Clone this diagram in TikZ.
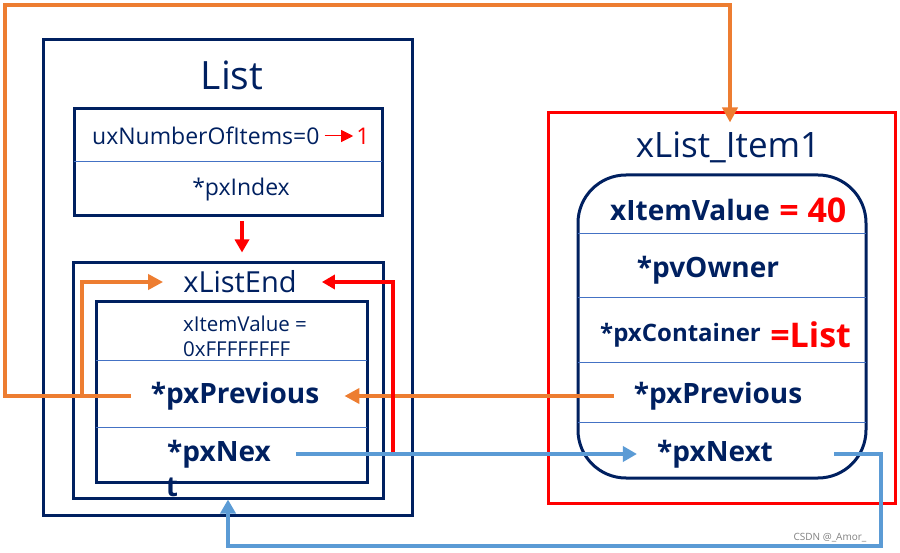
\documentclass[tikz,border=0pt]{standalone}
\usepackage{fontspec}
\setmainfont{Open Sans}
\usetikzlibrary{arrows.meta, calc, positioning}
\definecolor{navy}{HTML}{002060}
\definecolor{orng}{HTML}{ED7D31}
\definecolor{lblue}{HTML}{5B9BD5}
\definecolor{divblue}{HTML}{4472C4}

\begin{document}
\begin{tikzpicture}[
    x=1pt, y=-1pt,
    box/.style={draw=navy, line width=3pt, inner sep=0pt},
    divline/.style={draw=divblue, line width=1pt},
    small/.style={text=navy, inner sep=3pt, font=\fontsize{23}{27}\selectfont},
    head/.style={text=navy, inner sep=3pt, font=\fontsize{29}{34}\selectfont},
    fld/.style={text=navy, inner sep=3pt, font=\bfseries\fontsize{28}{32}\selectfont},
    redval/.style={text=red, inner sep=2pt, font=\bfseries\fontsize{34}{38}\selectfont},
    orangearrow/.style={draw=orng, line width=4pt, -{Triangle[length=15pt, width=15pt]}},
    bluearrow/.style={draw=lblue, line width=3.5pt, -{Triangle[length=14pt, width=15pt]}},
    redarrow/.style={draw=red, line width=3.5pt, -{Triangle[length=13pt, width=14pt]}}
]
\useasboundingbox (0,0) rectangle (900,553);

% Boxes
\node[box, minimum width=369pt, minimum height=475pt] (list) at (227.5,277.5) {};
\node[box, minimum width=308pt, minimum height=107pt] (numbox) at (228,162.5) {};
\node[box, minimum width=310pt, minimum height=235pt] (endbox) at (228,380.5) {};
\node[box, minimum width=271pt, minimum height=180pt] (enditem) at (231.5,392) {};
\node[draw=red, line width=3pt, inner sep=0pt, minimum width=347pt, minimum height=390pt] (item) at (721.5,308) {};
\node[box, rounded corners=48pt, minimum width=288pt, minimum height=303pt] (itemrnd) at (722,326.5) {};

% Dividers
\draw[divline] (74,162) -- (382,162);
\foreach \y in {361,427} \draw[divline] (96,\y) -- (367,\y);
\foreach \y in {234,298,363,422} \draw[divline] (578,\y) -- (866,\y);

% List
\node[text=navy, font=\fontsize{39}{44}\selectfont] (ttl) at (232,75) {List};
\node[small, anchor=west] (numv) at (89,136) {uxNumberOfItems=0};
\node[text=red, inner sep=3pt, font=\fontsize{23}{27}\selectfont] (numone) at (363,136) {1};
\node[small] (idx) at (241,190) {*pxIndex};

% xListEnd
\node[head] (endttl) at (240,282) {xListEnd};
\node[small, anchor=west, align=left, inner sep=0pt, font=\fontsize{20.5}{25}\selectfont] (endval) at (183,336) {xItemValue =\\0xFFFFFFFF};
\node[fld] (endPrev) at (235,396) {*pxPrevious};
\node[fld] (endNex) at (219,454) {*pxNex};
\node[fld] (endT) at (172,487) {t};

% xList_Item1
\node[text=navy, font=\fontsize{35}{40}\selectfont] (itemttl) at (728,147) {xList\_Item1};
\node[fld, anchor=west] (itemVal) at (607,210) {xItemValue};
\node[redval, anchor=west] (itemValR) at ([xshift=4pt]itemVal.east) {= 40};
\node[fld, anchor=west, font=\bfseries\fontsize{24}{28}\selectfont] (itemCont) at (597,335) {*pxContainer};
\node[redval, anchor=west] (itemContR) at ([xshift=4pt]itemCont.east) {=List};
\node[fld] (itemOwn) at (708,270) {*pvOwner};
\node[fld] (itemPrev) at (718,396) {*pxPrevious};
\node[fld] (itemNext) at (715,454) {*pxNext};

\node[text=gray, font=\fontsize{10}{12}\selectfont] (mark) at (830,538) {CSDN @\_Amor\_};

% Arrows
\coordinate (brk) at (82,396);
\coordinate (nexJ) at (393,454);
\draw[red, line width=1pt, -{Triangle[length=12pt, width=12pt]}, shorten <=2pt] (numv.east) -- (numone.west);
\draw[redarrow, shorten <=4pt, shorten >=9pt] ([xshift=14pt]numbox.south) -- ([xshift=14pt]endbox.north);
\draw[orangearrow, shorten <=17pt, shorten >=-11pt] (endPrev.west) -- (5,396) |- (730,5) -- ([xshift=8.5pt]item.north);
\draw[orangearrow, shorten >=17pt] (brk) |- (endttl.west);
\draw[orangearrow, shorten <=17pt, shorten >=22pt] (itemPrev.west) -- (endPrev.east);
\draw[redarrow, shorten >=22pt] (nexJ) |- (endttl.east);
\draw[bluearrow, shorten <=22pt, shorten >=17pt] (endNex.east) -- (itemNext.west);
\draw[bluearrow, shorten <=58pt] (itemNext.east) -| (881,546) -| (endbox.south);

\end{tikzpicture}
\end{document}
